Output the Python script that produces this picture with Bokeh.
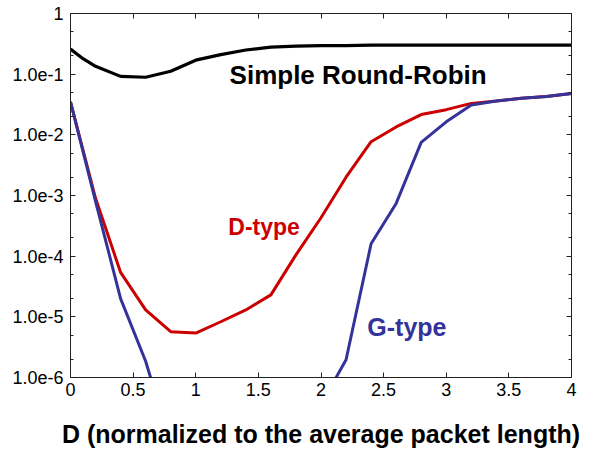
from bokeh.plotting import figure
from bokeh.models import (Range1d, FixedTicker, LinearAxis, LogAxis, Label,
                          CustomJSTickFormatter)
from bokeh.embed import file_html
from bokeh.resources import INLINE
import numpy as np

# Normalized delay bound D (multiples of the average packet length)
d_rr = [0.0, 0.1, 0.2, 0.4, 0.6, 0.8, 1.0, 1.2, 1.4, 1.6, 1.8, 2.0, 2.2, 2.4,
        2.6, 2.8, 3.0, 3.2, 3.4, 3.6, 3.8, 4.0]
d_types = [0.0, 0.2, 0.4, 0.6, 0.8, 1.0, 1.2, 1.4, 1.6, 1.8, 2.0, 2.2, 2.4,
           2.6, 2.8, 3.0, 3.2, 3.4, 3.6, 3.8, 4.0]

# Simple Round-Robin
round_robin = [0.26, 0.18, 0.135, 0.092, 0.089, 0.112, 0.17, 0.21, 0.25, 0.28,
               0.29, 0.295, 0.295, 0.30, 0.30, 0.30, 0.30, 0.30, 0.30, 0.30,
               0.30, 0.30]
# D-type scheduler
d_type = [0.035, 9e-4, 5.4e-5, 1.3e-5, 5.7e-6, 5.4e-6, 8.3e-6, 1.3e-5, 2.3e-5,
          1.05e-4, 4.3e-4, 2.0e-3, 7.7e-3, 0.0135, 0.0216, 0.026, 0.033, 0.036,
          0.040, 0.043, 0.048]
# G-type scheduler (nan where the value falls far below the plotted range)
g_type = [0.035, 8e-4, 2e-5, 1.85e-6, 8e-8, np.nan, np.nan, np.nan, np.nan,
          np.nan, 3.6e-7, 1.96e-6, 1.6e-4, 7.4e-4, 7.5e-3, 0.0164, 0.031, 0.036,
          0.040, 0.043, 0.048]

x_ticks = [0, 0.5, 1, 1.5, 2, 2.5, 3, 3.5, 4]
y_ticks = [1e-6, 1e-5, 1e-4, 1e-3, 1e-2, 1e-1, 1]
y_minor = [m * t for t in y_ticks[:-1] for m in (2, 5)]
y_tick_labels = ["1.0e-6", "1.0e-5", "1.0e-4", "1.0e-3", "1.0e-2", "1.0e-1", "1"]

FONT = "Liberation Sans"
RED = "#cc0000"
BLUE = "#333399"

p = figure(width=607, height=450, output_backend="svg", toolbar_location=None,
           y_axis_type="log", x_range=Range1d(0, 4), y_range=Range1d(1e-6, 1),
           min_border_left=70, min_border_right=36, min_border_top=13,
           min_border_bottom=72)
p.background_fill_color = "white"
p.border_fill_color = "white"
p.outline_line_color = "#222222"
p.outline_line_width = 1
p.xgrid.visible = False
p.ygrid.visible = False

p.line(d_rr, round_robin, line_color="black", line_width=3.2)
p.line(d_types, d_type, line_color=RED, line_width=3)
p.line(d_types, g_type, line_color=BLUE, line_width=3)

yfmt = CustomJSTickFormatter(args=dict(labels=y_tick_labels),
                             code="return labels[Math.round(Math.log10(tick)) + 6];")


def style_axis(ax):
    ax.axis_line_color = "#222222"
    ax.major_tick_line_color = "#222222"
    ax.minor_tick_line_color = "#222222"
    ax.major_tick_in = 5
    ax.major_tick_out = 0
    ax.minor_tick_in = 3
    ax.minor_tick_out = 0
    ax.major_label_text_font = FONT
    ax.major_label_text_font_size = "18px"
    ax.major_label_text_color = "black"


def mirror_axis(ax):
    # tick marks only, labels are not painted
    style_axis(ax)
    ax.major_label_text_font_size = "1px"
    ax.major_label_text_color = None
    ax.major_label_standoff = 0


xa = p.xaxis[0]
xa.ticker = FixedTicker(ticks=x_ticks, minor_ticks=[])
style_axis(xa)
xa.major_label_standoff = 5
xa.axis_label = "D (normalized to the average packet length)"
xa.axis_label_text_font = FONT
xa.axis_label_text_font_size = "25px"
xa.axis_label_text_font_style = "bold"
xa.axis_label_text_color = "black"
xa.axis_label_standoff = 21

ya = p.yaxis[0]
ya.ticker = FixedTicker(ticks=y_ticks, minor_ticks=y_minor)
ya.formatter = yfmt
style_axis(ya)
ya.major_label_standoff = 7

top = LinearAxis(ticker=FixedTicker(ticks=x_ticks, minor_ticks=[]))
mirror_axis(top)
p.add_layout(top, "above")

right = LogAxis(ticker=FixedTicker(ticks=y_ticks, minor_ticks=y_minor))
mirror_axis(right)
p.add_layout(right, "right")

labels = [
    ("Simple Round-Robin", 1.27, 0.096, "black", "26px"),
    ("D-type", 1.26, 3.0e-4, RED, "23px"),
    ("G-type", 2.37, 6.8e-6, BLUE, "25px"),
]
for txt, lx, ly, col, size in labels:
    p.add_layout(Label(x=lx, y=ly, text=txt, text_color=col,
                       text_font=FONT, text_font_size=size,
                       text_font_style="bold", text_baseline="alphabetic"))

open("out.html", "w").write(file_html(p, INLINE))
